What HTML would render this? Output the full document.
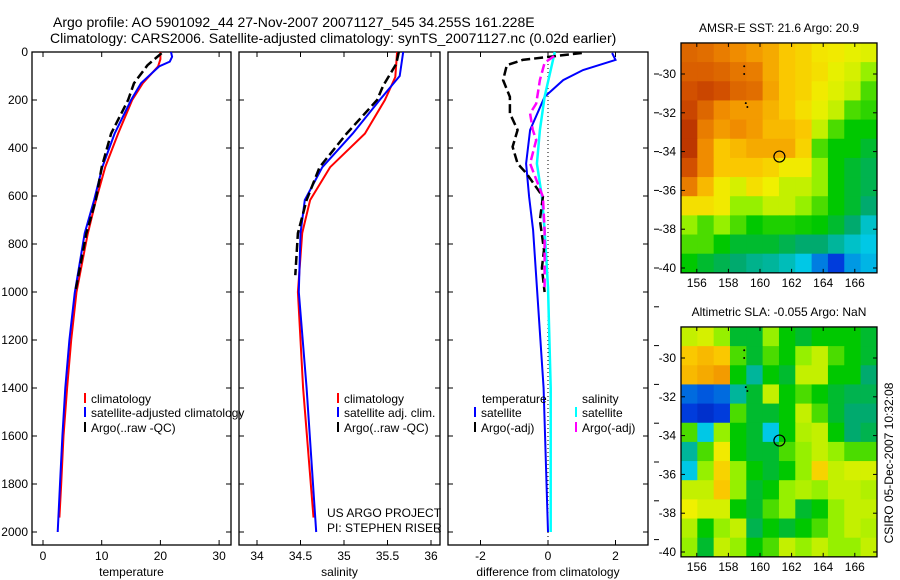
<!DOCTYPE html>
<html><head><meta charset="utf-8"><style>
body{margin:0;background:#fff}
svg{display:block;font-family:"Liberation Sans",sans-serif}
</style></head><body>
<svg id="fig" width="900" height="580" viewBox="0 0 900 580">
<text x="53" y="27" font-size="14">Argo profile: AO 5901092_44 27-Nov-2007 20071127_545 34.255S 161.228E</text>
<text x="50" y="43" font-size="14">Climatology: CARS2006. Satellite-adjusted climatology: synTS_20071127.nc (0.02d earlier)</text>
<text x="779" y="32" font-size="12" text-anchor="middle">AMSR-E SST: 21.6 Argo: 20.9</text>
<text x="779" y="316" font-size="12" text-anchor="middle">Altimetric SLA: -0.055 Argo: NaN</text>
<text x="0" y="0" font-size="12" text-anchor="middle" transform="translate(893,463) rotate(-90)">CSIRO 05-Dec-2007 10:32:08</text>
<text x="327" y="517" font-size="12">US ARGO PROJECT</text>
<text x="327" y="532" font-size="12">PI: STEPHEN RISER</text>
</svg>
<script>
// ---------- data ----------
const tempClimDepth=[0,30,60,130,200,340,480,620,760,1000,1200,1400,1600,1800,1940];
const tempClim=[20,20,19.6,17,15.2,12.8,10.6,9.0,7.6,5.7,4.8,4.1,3.5,3.1,2.8];
const tempSatDepth=[0,20,40,60,130,200,340,480,617,755,1005,1200,1400,1600,1800,2000];
const tempSat=[21.8,22,21.6,19.8,16.7,15,12.2,10.1,8.7,7.1,5.4,4.5,3.8,3.3,2.9,2.5];
const tempArgoDepth=[5,30,55,130,200,340,480,617,755,1000];
const tempArgo=[20.2,19,17.8,15.5,14.5,11.6,10,9,7.4,5.5];

const salClimDepth=[0,104,200,340,480,617,755,1000,1400,1940];
const salClim=[35.61,35.59,35.47,35.24,34.84,34.61,34.52,34.47,34.53,34.65];
const salSatDepth=[0,100,200,340,480,617,755,1000,1400,2000];
const salSat=[35.68,35.64,35.41,35.1,34.75,34.55,34.5,34.48,34.57,34.68];
const salArgoDepth=[0,50,140,200,280,340,480,617,755,930];
const salArgo=[35.63,35.6,35.45,35.38,35.18,35.03,34.72,34.57,34.47,34.44];

const dTempSatDepth=[4,33,75,117,187,325,465,603,742,980,1400,2000];
const dTempSat=[1.9,2.0,1.04,0.45,-0.1,-0.53,-0.65,-0.56,-0.44,-0.33,-0.13,0];
const dSalSatDepth=[0,187,325,465,603,742,980,1400,2000];
const dSalSat=[0.2,-0.1,-0.24,-0.33,-0.18,-0.1,0,0.08,0.08];
const dTempArgoDepth=[4,33,55,117,187,256,325,395,465,507,603,700,825,900,1000];
const dTempArgo=[1.0,-0.75,-1.22,-1.33,-1.13,-1.13,-0.9,-1.05,-0.9,-0.63,-0.15,-0.24,-0.12,-0.18,-0.1];
const dSalArgoDepth=[17,45,117,215,256,325,367,465,603,742,980];
const dSalArgo=[0.18,-0.1,-0.24,-0.35,-0.53,-0.45,-0.35,-0.53,-0.15,-0.1,-0.1];

const depthTicks=[0,200,400,600,800,1000,1200,1400,1600,1800,2000];
const tempTicks=[0,10,20,30];
const salTicks=[34,34.5,35,35.5,36];
const salTickLabels=["34","34.5","35","35.5","36"];
const diffTicks=[-2,0,2];
const diffTickLabels=["-2","0","2"];
const lonTicks=[156,158,160,162,164,166];
const latTicks=[-30,-32,-34,-36,-38,-40];

const sstIndex=[
[.85,.84,.82,.80,.78,.76,.72,.70,.67,.66,.64,.63],
[.86,.86,.85,.83,.82,.76,.72,.70,.68,.64,.62,.55],
[.88,.90,.88,.85,.84,.77,.72,.70,.66,.63,.60,.50],
[.90,.85,.80,.78,.78,.75,.72,.68,.64,.60,.50,.48],
[.93,.82,.78,.80,.78,.74,.74,.72,.60,.50,.45,.45],
[.93,.80,.72,.74,.76,.76,.76,.70,.50,.45,.45,.42],
[.88,.80,.72,.72,.72,.70,.66,.66,.55,.45,.42,.40],
[.82,.74,.66,.62,.68,.65,.60,.60,.55,.45,.42,.40],
[.68,.68,.66,.55,.55,.60,.60,.55,.50,.45,.42,.38],
[.55,.50,.55,.50,.45,.47,.47,.46,.45,.42,.38,.32],
[.50,.50,.45,.42,.42,.42,.40,.38,.38,.35,.32,.30],
[.45,.42,.40,.38,.36,.35,.33,.30,.22,.15,.25,.28]];
const slaIndex=[
[.60,.62,.55,.42,.42,.55,.45,.42,.45,.45,.45,.42],
[.72,.74,.72,.50,.42,.50,.45,.55,.60,.50,.45,.42],
[.74,.76,.78,.45,.35,.45,.42,.60,.60,.45,.45,.38],
[.20,.18,.20,.35,.42,.60,.45,.50,.45,.42,.40,.40],
[.15,.12,.15,.50,.42,.42,.45,.60,.50,.42,.38,.38],
[.50,.30,.55,.45,.42,.30,.45,.58,.60,.45,.38,.40],
[.35,.50,.66,.45,.42,.42,.50,.55,.60,.55,.50,.50],
[.30,.55,.70,.55,.45,.42,.45,.55,.70,.60,.62,.62],
[.60,.60,.72,.55,.42,.45,.55,.58,.55,.60,.60,.58],
[.65,.62,.62,.45,.42,.50,.55,.42,.45,.55,.60,.60],
[.58,.45,.55,.60,.40,.45,.42,.45,.50,.55,.60,.58],
[.55,.42,.60,.55,.45,.50,.60,.55,.60,.55,.55,.60]];
const argoLon=161.228, argoLat=-34.255;
const coastLon=[159.0,159.0,159.1,159.2];
const coastLat=[-29.6,-30.0,-31.5,-31.7];

// ---------- drawing ----------
const svg=document.getElementById('fig');
const NS='http://www.w3.org/2000/svg';
function mk(tag,attrs,parent){const e=document.createElementNS(NS,tag);for(const k in attrs)e.setAttribute(k,attrs[k]);(parent||svg).appendChild(e);return e;}
const Y0=52,Y1=545;
const yDepth=d=>52+d*0.24;

function panel(name,x0,x1,xs,ticks,labels,xlabel,showY){
  const g=mk('g',{});
  
  
  const r=mk('rect',{x:x0,y:Y0,width:x1-x0,height:Y1-Y0,fill:'none',stroke:'#000','stroke-width':1.3},g);
  
  
  ticks.forEach((t,i)=>{const x=xs(t);
    mk('line',{x1:x,x2:x,y1:Y1,y2:Y1-5,stroke:'#000'},g);
    mk('line',{x1:x,x2:x,y1:Y0,y2:Y0+5,stroke:'#000'},g);
    const tl=mk('text',{x:x,y:560,'font-size':12,'text-anchor':'middle'},g);tl.textContent=labels[i];
    
    
  });
  depthTicks.forEach(d=>{const y=yDepth(d);
    mk('line',{x1:x0,x2:x0+5,y1:y,y2:y,stroke:'#000'},g);
    mk('line',{x1:x1,x2:x1-5,y1:y,y2:y,stroke:'#000'},g);
    if(showY){const tl=mk('text',{x:28,y:y+4,'font-size':12,'text-anchor':'end'},g);tl.textContent=d;
      
      }
  });
  const xl=mk('text',{x:(x0+x1)/2,y:576,'font-size':12,'text-anchor':'middle'},g);xl.textContent=xlabel;
  
  
  return g;
}
function line(name,depths,vals,xs,color,w,dash){
  const pts=depths.map((d,i)=>xs(vals[i]).toFixed(1)+','+yDepth(d).toFixed(1)).join(' ');
  const p=mk('polyline',{points:pts,fill:'none',stroke:color,'stroke-width':w,'stroke-dasharray':dash||'none'});
  
  
}
function legend(x,y,color,label,name){
  mk('line',{x1:x,x2:x,y1:y-10,y2:y,stroke:color,'stroke-width':2});
  const t=mk('text',{x:x+6,y:y,'font-size':12});t.textContent=label;
  
  
}

const xT=v=>43+v*5.87, xS=v=>257+(v-34)*87, xD=v=>548+v*33.75;
panel('temperature-panel',32,231,xT,tempTicks,tempTicks.map(String),'temperature',true);
panel('salinity-panel',239,440,xS,salTicks,salTickLabels,'salinity',false);
panel('difference-panel',448,648,xD,diffTicks,diffTickLabels,'difference from climatology',false);
for(let y=74;y<550;y+=38.8) mk('line',{x1:654,x2:659,y1:y,y2:y,stroke:'#000'});

line('temp-climatology-line',tempClimDepth,tempClim,xT,'#f00',2);
line('temp-satellite-line',tempSatDepth,tempSat,xT,'#00f',2);
line('temp-argo-line',tempArgoDepth,tempArgo,xT,'#000',2.5,'9,4');
line('sal-climatology-line',salClimDepth,salClim,xS,'#f00',2);
line('sal-satellite-line',salSatDepth,salSat,xS,'#00f',2);
line('sal-argo-line',salArgoDepth,salArgo,xS,'#000',2.5,'9,4');
mk('line',{x1:xD(0),x2:xD(0),y1:Y0,y2:Y1,stroke:'#000','stroke-dasharray':'1,3'});
line('diff-temp-satellite-line',dTempSatDepth,dTempSat,xD,'#00f',2);
line('diff-sal-satellite-line',dSalSatDepth,dSalSat,xD,'#0ff',2.5);
line('diff-temp-argo-line',dTempArgoDepth,dTempArgo,xD,'#000',2.5,'9,4');
line('diff-sal-argo-line',dSalArgoDepth,dSalArgo,xD,'#f0f',2.5,'9,4');

legend(85,403,'#f00','climatology','legend-climatology');
legend(85,417,'#00f','satellite-adjusted climatology','legend-satellite-adjusted');
legend(85,432,'#000','Argo(..raw -QC)','legend-argo');
legend(338,403,'#f00','climatology','legend-sal-climatology');
legend(338,417,'#00f','satellite adj. clim.','legend-sal-satellite');
legend(338,432,'#000','Argo(..raw -QC)','legend-sal-argo');
{const t=mk('text',{x:482,y:403,'font-size':12});t.textContent='temperature';}
{const t=mk('text',{x:582,y:403,'font-size':12});t.textContent='salinity';}
legend(475,417,'#00f','satellite','legend-diff-temp-satellite');
legend(475,432,'#000','Argo(-adj)','legend-diff-temp-argo');
legend(576,417,'#0ff','satellite','legend-diff-sal-satellite');
legend(576,432,'#f0f','Argo(-adj)','legend-diff-sal-argo');

const cmapStops=[[0,0,0,140],[0.15,0,60,220],[0.3,0,200,230],[0.38,0,170,110],[0.45,0,200,0],[0.55,150,240,0],[0.65,240,240,0],[0.72,250,200,0],[0.8,240,140,0],[0.88,210,80,0],[1,160,20,0]];
function cmap(v){v=Math.max(0,Math.min(1,v));
  for(let i=1;i<cmapStops.length;i++){const a=cmapStops[i-1],b=cmapStops[i];
    if(v<=b[0]){const t=(v-a[0])/(b[0]-a[0]);
      return `rgb(${Math.round(a[1]+t*(b[1]-a[1]))},${Math.round(a[2]+t*(b[2]-a[2]))},${Math.round(a[3]+t*(b[3]-a[3]))})`;}}
  return 'rgb(160,20,0)';}

function map(name,grid,yLat0){
  const xL=lon=>681+(lon-155)*15.8, yL=lat=>yLat0+(-30-lat)*19.4;
  const g=mk('g',{});
  
  
  const nr=grid.length,nc=grid[0].length,lonW=12.4/nc,latH=11.85/nr;
  grid.forEach((row,j)=>row.forEach((v,i)=>{
    const x=xL(155+i*lonW),y=yL(-28.4-j*latH);
    const c=mk('rect',{x:x,y:y,width:xL(155+(i+1)*lonW)-x+0.5,height:yL(-28.4-(j+1)*latH)-y+0.5,fill:cmap(v)},g);
    
    
  }));
  const top=yL(-28.4),bot=yL(-40.25);
  mk('rect',{x:681,y:top,width:196,height:bot-top,fill:'none',stroke:'#000','stroke-width':1.3},g);
  lonTicks.forEach(l=>{const x=xL(l);mk('line',{x1:x,x2:x,y1:bot,y2:bot-4,stroke:'#000'},g);mk('line',{x1:x,x2:x,y1:top,y2:top+4,stroke:'#000'},g);
    const t=mk('text',{x:x,y:bot+14,'font-size':12,'text-anchor':'middle'},g);t.textContent=l;
    
    });
  latTicks.forEach(l=>{const y=yL(l);mk('line',{x1:681,x2:685,y1:y,y2:y,stroke:'#000'},g);mk('line',{x1:877,x2:873,y1:y,y2:y,stroke:'#000'},g);
    const t=mk('text',{x:676,y:y+4,'font-size':12,'text-anchor':'end'},g);t.textContent=l;
    
    });
  coastLon.forEach((l,i)=>mk('circle',{cx:xL(l),cy:yL(coastLat[i]),r:1,fill:'#000'},g));
  const m=mk('circle',{cx:xL(argoLon),cy:yL(argoLat),r:5.5,fill:'none',stroke:'#000','stroke-width':1.2},g);
  
  
}
map('sst-map',sstIndex,74);
map('sla-map',slaIndex,358);
</script>
</body></html>
